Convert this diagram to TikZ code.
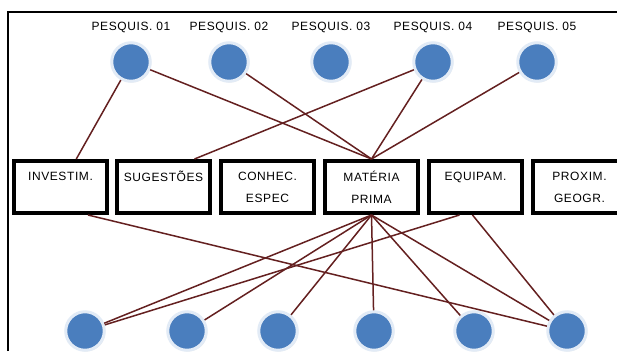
\documentclass[tikz,border=0pt]{standalone}
\usepackage{fontspec}
\setmainfont{Liberation Sans}
\newfontfamily\spacedfont[LetterSpace=5]{Liberation Sans}
\usetikzlibrary{shadows}
\definecolor{dotblue}{HTML}{4A7EBE}
\definecolor{dotring}{HTML}{E2EBF6}
\definecolor{linkred}{HTML}{642020}
\begin{document}
\begin{tikzpicture}[x=1pt,y=-1pt,
  dot/.style={circle, fill=dotblue, draw=dotring, line width=3pt,
    minimum size=38.5pt, inner sep=0pt,
    drop shadow={opacity=0.22, shadow xshift=1pt, shadow yshift=-1.2pt}},
  lbl/.style={font=\spacedfont\fontsize{12}{14}\selectfont, inner sep=0pt},
  factor/.style={draw=black, line width=4pt, fill=white,
    minimum width=93pt, minimum height=52pt, inner sep=0pt,
    align=center, font=\spacedfont\fontsize{12}{22}\selectfont},
  link/.style={draw=linkred, line width=1.5pt}]
\clip (0,0) rectangle (617,351);
\fill[white] (0,0) rectangle (617,351);

% frame
\draw[line width=1.2pt] (8,351) -- (8,12) -- (617,12);

% researchers
\node[dot] (p1) at (131,62) {};
\node[dot] (p2) at (229,62) {};
\node[dot] (p3) at (331,62) {};
\node[dot] (p4) at (433,62) {};
\node[dot] (p5) at (537,62) {};
\node[lbl] (l1) at (131,27) {PESQUIS. 01};
\node[lbl] (l2) at (229,27) {PESQUIS. 02};
\node[lbl] (l3) at (331,27) {PESQUIS. 03};
\node[lbl] (l4) at (433,27) {PESQUIS. 04};
\node[lbl] (l5) at (537,27) {PESQUIS. 05};

% factors
\node[factor] (b1) at (60.5,187) {INVESTIM.\\\phantom{I}};
\node[factor] (b2) at (163.5,187) {SUGESTÕES\\\phantom{I}};
\node[factor] (b3) at (267.5,187) {CONHEC.\\ESPEC};
\node[factor] (b4) at (371.5,187) {MATÉRIA\\PRIMA};
\node[factor] (b5) at (475.5,187) {EQUIPAM.\\\phantom{I}};
\node[factor] (b6) at (579.5,187) {PROXIM.\\GEOGR.};

% lower nodes
\node[dot] (q1) at (85,331) {};
\node[dot] (q2) at (187,331) {};
\node[dot] (q3) at (278,331) {};
\node[dot] (q4) at (374,331) {};
\node[dot] (q5) at (474,331) {};
\node[dot] (q6) at (567,331) {};

% upper links
\draw[link] (p1) -- (b1);
\draw[link] (p1) -- (b4.north);
\draw[link] (p2) -- (b4.north);
\draw[link] (p4) -- ([xshift=31pt]b2.north);
\draw[link] (p4) -- (b4.north);
\draw[link] (p5) -- (b4.north);

% lower links
\draw[link] ([xshift=27.5pt]b1.south) -- (q6);
\foreach \q in {q1,q2,q3,q4,q5,q6}
  \draw[link] (b4.south) -- (\q);
\draw[link] ([xshift=-16pt]b5.south) -- (q1);
\draw[link] ([xshift=-3pt]b5.south) -- (q6);
\end{tikzpicture}
\end{document}
